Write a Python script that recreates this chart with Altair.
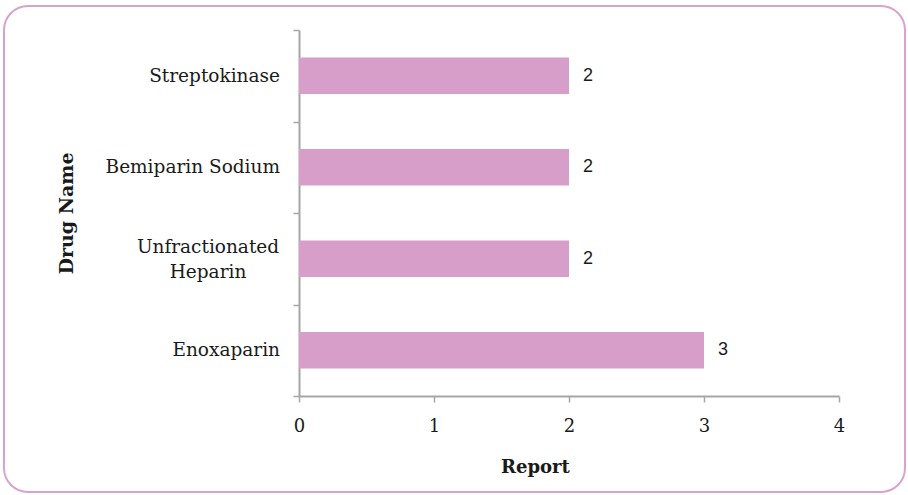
import altair as alt
import pandas as pd

# Reports per drug
drugs = ["Streptokinase", "Bemiparin Sodium", "Unfractionated Heparin", "Enoxaparin"]
labels = ["Streptokinase", "Bemiparin Sodium", "Unfractionated\nHeparin", "Enoxaparin"]
reports = [2, 2, 2, 3]
x_ticks = [0, 1, 2, 3, 4]

df = pd.DataFrame({"drug": drugs, "label": labels, "report": reports})
df["multiline"] = df["label"].str.contains("\n")

SERIF = "DejaVu Serif"
SANS = "Liberation Sans"
TEXT = "#1a1a1a"
AXIS = "#a6a6a6"

y_enc = alt.Y(
    "drug:N",
    sort=drugs,
    scale=alt.Scale(paddingInner=0, paddingOuter=0),
    axis=alt.Axis(
        title="Drug Name",
        labels=False,
        tickBand="extent",
        tickSize=6,
        tickColor=AXIS,
        tickWidth=1.5,
        domainColor=AXIS,
        domainWidth=2,
        titleFont=SERIF,
        titleFontWeight="bold",
        titleFontSize=19,
        titleColor=TEXT,
        titleAngle=-90,
        titleAlign="center",
        titleBaseline="middle",
        titleX=-233,
        titleY=183,
    ),
)

x_enc = alt.X(
    "report:Q",
    scale=alt.Scale(domain=[0, 4]),
    axis=alt.Axis(
        title="Report",
        values=x_ticks,
        format="d",
        grid=False,
        tickSize=6,
        tickColor=AXIS,
        tickWidth=1.5,
        domainColor=AXIS,
        domainWidth=2,
        labelFlush=False,
        labelFont=SERIF,
        labelFontSize=18,
        labelColor=TEXT,
        labelPadding=15,
        titleFont=SERIF,
        titleFontWeight="bold",
        titleFontSize=18,
        titleColor=TEXT,
        titleAlign="center",
        titleBaseline="middle",
        titleX=236,
        titleY=71,
    ),
)

base = alt.Chart(df)

bars = base.mark_bar(color="#d69ec8", height={"band": 0.4}).encode(x=x_enc, y=y_enc)

values = base.mark_text(
    align="left", baseline="middle", dx=14, font=SANS, fontSize=18, color=TEXT
).encode(x="report:Q", y=alt.Y("drug:N", sort=drugs), text="report:Q")

# Category labels: single-line ones right-aligned, the wrapped one centred
single_labels = base.transform_filter("!datum.multiline").mark_text(
    align="right", baseline="middle", font=SERIF, fontSize=18.5, color=TEXT
).encode(x=alt.value(-19), y=alt.Y("drug:N", sort=drugs), text="label:N")

multi_labels = base.transform_filter("datum.multiline").mark_text(
    align="center", baseline="middle", font=SERIF, fontSize=18.5, color=TEXT,
    lineBreak="\n", lineHeight=25, dy=-12
).encode(x=alt.value(-91), y=alt.Y("drug:N", sort=drugs), text="label:N")

# Rounded frame around the whole figure
frame = alt.Chart(pd.DataFrame({"f": [0]})).mark_rect(
    fill=None, stroke="#d9a3cf", strokeWidth=2, cornerRadius=24
).encode(
    x=alt.value(-295), x2=alt.value(606), y=alt.value(-24), y2=alt.value(462)
)

chart = alt.layer(frame, bars, values, single_labels, multi_labels).properties(
    width=540,
    height=366,
    autosize=alt.AutoSizeParams(type="none"),
    padding={"left": 299, "top": 30, "right": 69, "bottom": 99},
    background="white",
).configure_view(stroke=None)

chart.save("out.html", embed_options={"renderer": "svg", "actions": False})
